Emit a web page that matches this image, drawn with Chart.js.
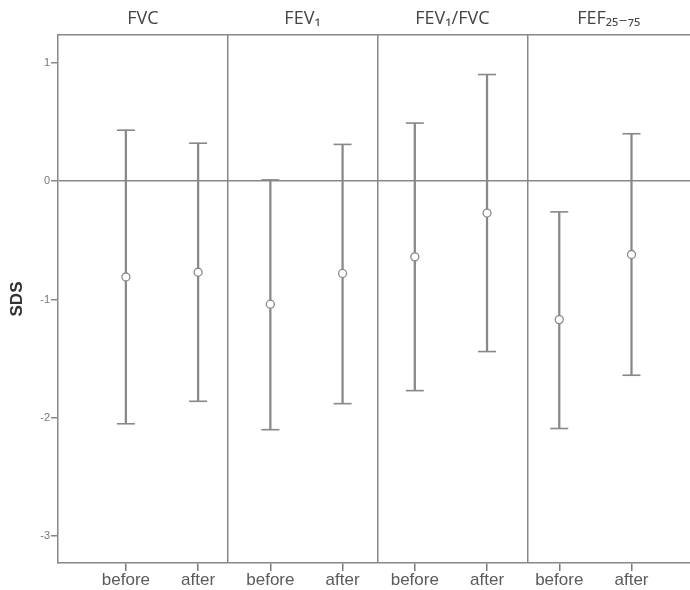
<!DOCTYPE html>
<html>
<head>
<meta charset="utf-8">
<script src="https://cdn.jsdelivr.net/npm/chart.js@4.4.1/dist/chart.umd.min.js"></script>
<style>
  html, body { margin: 0; padding: 0; background: #fff; }
  #wrap { width: 690px; height: 590px; }
</style>
</head>
<body>
<div id="wrap"><canvas id="sdsChart"></canvas></div>
<script>
// values (SDS)
const panels = ["FVC", "FEV\u2081", "FEV\u2081/FVC", "FEF\u2082\u2085\u208B\u2087\u2085"];
const timepoints = ["before", "after"];
const means = [-0.81, -0.77, -1.04, -0.78, -0.64, -0.27, -1.17, -0.62];
const upper = [0.43, 0.32, 0.01, 0.31, 0.49, 0.90, -0.26, 0.40];
const lower = [-2.05, -1.86, -2.10, -1.88, -1.77, -1.44, -2.09, -1.64];
const yTicks = [1, 0, -1, -2, -3];

// layout
const xMin = 0.06, xMax = 8.81;
const panelEdges = [2.41, 4.48, 6.56];
const lineColor = "#888888";

const positions = means.map((m, i) => i + 1);
const labelFor = (v) => {
  const i = positions.indexOf(v);
  return i < 0 ? "" : timepoints[i % 2];
};
const bounds = [xMin, ...panelEdges, xMax];
const panelCenters = panels.map((p, i) => (bounds[i] + bounds[i + 1]) / 2);

new Chart(document.getElementById("sdsChart"), {
  type: "bar",
  data: {
    datasets: [
      {
        type: "scatter",
        data: positions.map((x, i) => ({ x: x, y: means[i] })),
        pointStyle: "circle",
        pointRadius: 4,
        backgroundColor: "#ffffff",
        borderColor: lineColor,
        borderWidth: 1.3,
        order: 0
      },
      {
        type: "scatter",
        data: positions.flatMap((x, i) => [{ x: x, y: upper[i] }, { x: x, y: lower[i] }]),
        pointStyle: "line",
        pointRadius: 9,
        borderColor: lineColor,
        borderWidth: 1.6,
        order: 1
      },
      {
        type: "bar",
        data: positions.map((x, i) => ({ x: x, y: [lower[i], upper[i]] })),
        barThickness: 1.6,
        backgroundColor: lineColor,
        borderWidth: 0,
        order: 2
      }
    ]
  },
  options: {
    responsive: true,
    maintainAspectRatio: false,
    animation: false,
    events: [],
    layout: { padding: 0, autoPadding: false },
    plugins: { legend: { display: false }, tooltip: { enabled: false } },
    scales: {
      x: {
        type: "linear",
        position: "bottom",
        min: xMin,
        max: xMax,
        offset: false,
        afterBuildTicks: (scale) => {
          scale.ticks = [...positions, ...panelEdges].sort((a, b) => a - b).map(v => ({ value: v }));
        },
        afterFit: (scale) => { scale.height = 27; },
        ticks: {
          autoSkip: false,
          maxRotation: 0,
          padding: -1,
          color: "#5a5a5a",
          font: { family: "Arial, 'Liberation Sans'", size: 17 },
          callback: (v) => labelFor(v)
        },
        grid: {
          offset: false,
          lineWidth: 1.5,
          tickLength: 8,
          color: (ctx) => ctx.tick && panelEdges.includes(ctx.tick.value) ? lineColor : "rgba(0,0,0,0)",
          tickColor: (ctx) => ctx.tick && positions.includes(ctx.tick.value) ? "#7a7a7a" : "rgba(0,0,0,0)",
          tickWidth: 1.5
        },
        border: { color: lineColor, width: 1.5 }
      },
      top: {
        type: "linear",
        position: "top",
        axis: "x",
        min: xMin,
        max: xMax,
        offset: false,
        afterBuildTicks: (scale) => {
          scale.ticks = panelCenters.map(v => ({ value: v }));
        },
        afterFit: (scale) => { scale.height = 35; },
        ticks: {
          autoSkip: false,
          maxRotation: 0,
          padding: 5,
          color: "#444444",
          font: { family: "'Open Sans', 'DejaVu Sans'", size: 18 },
          callback: (v, i) => panels[i]
        },
        grid: { offset: false, drawTicks: false, color: "rgba(0,0,0,0)" },
        border: { color: lineColor, width: 1.5 }
      },
      y: {
        type: "linear",
        min: -3.226,
        max: 1.234,
        afterBuildTicks: (scale) => {
          scale.ticks = yTicks.map(v => ({ value: v }));
        },
        afterFit: (scale) => { scale.width = 58; },
        ticks: {
          padding: 1,
          color: "#777777",
          font: { family: "Arial, 'Liberation Sans'", size: 11 },
          callback: (v) => String(v)
        },
        grid: {
          lineWidth: 1.5,
          tickLength: 7,
          color: (ctx) => ctx.tick && ctx.tick.value === 0 ? lineColor : "rgba(0,0,0,0)",
          tickColor: lineColor
        },
        border: { color: lineColor, width: 1.5 },
        title: {
          display: true,
          text: "SDS",
          color: "#333333",
          padding: { top: 7, bottom: 0 },
          font: { family: "Arial, 'Liberation Sans'", size: 17, weight: "bold" }
        }
      }
    }
  }
});
</script>
</body>
</html>
